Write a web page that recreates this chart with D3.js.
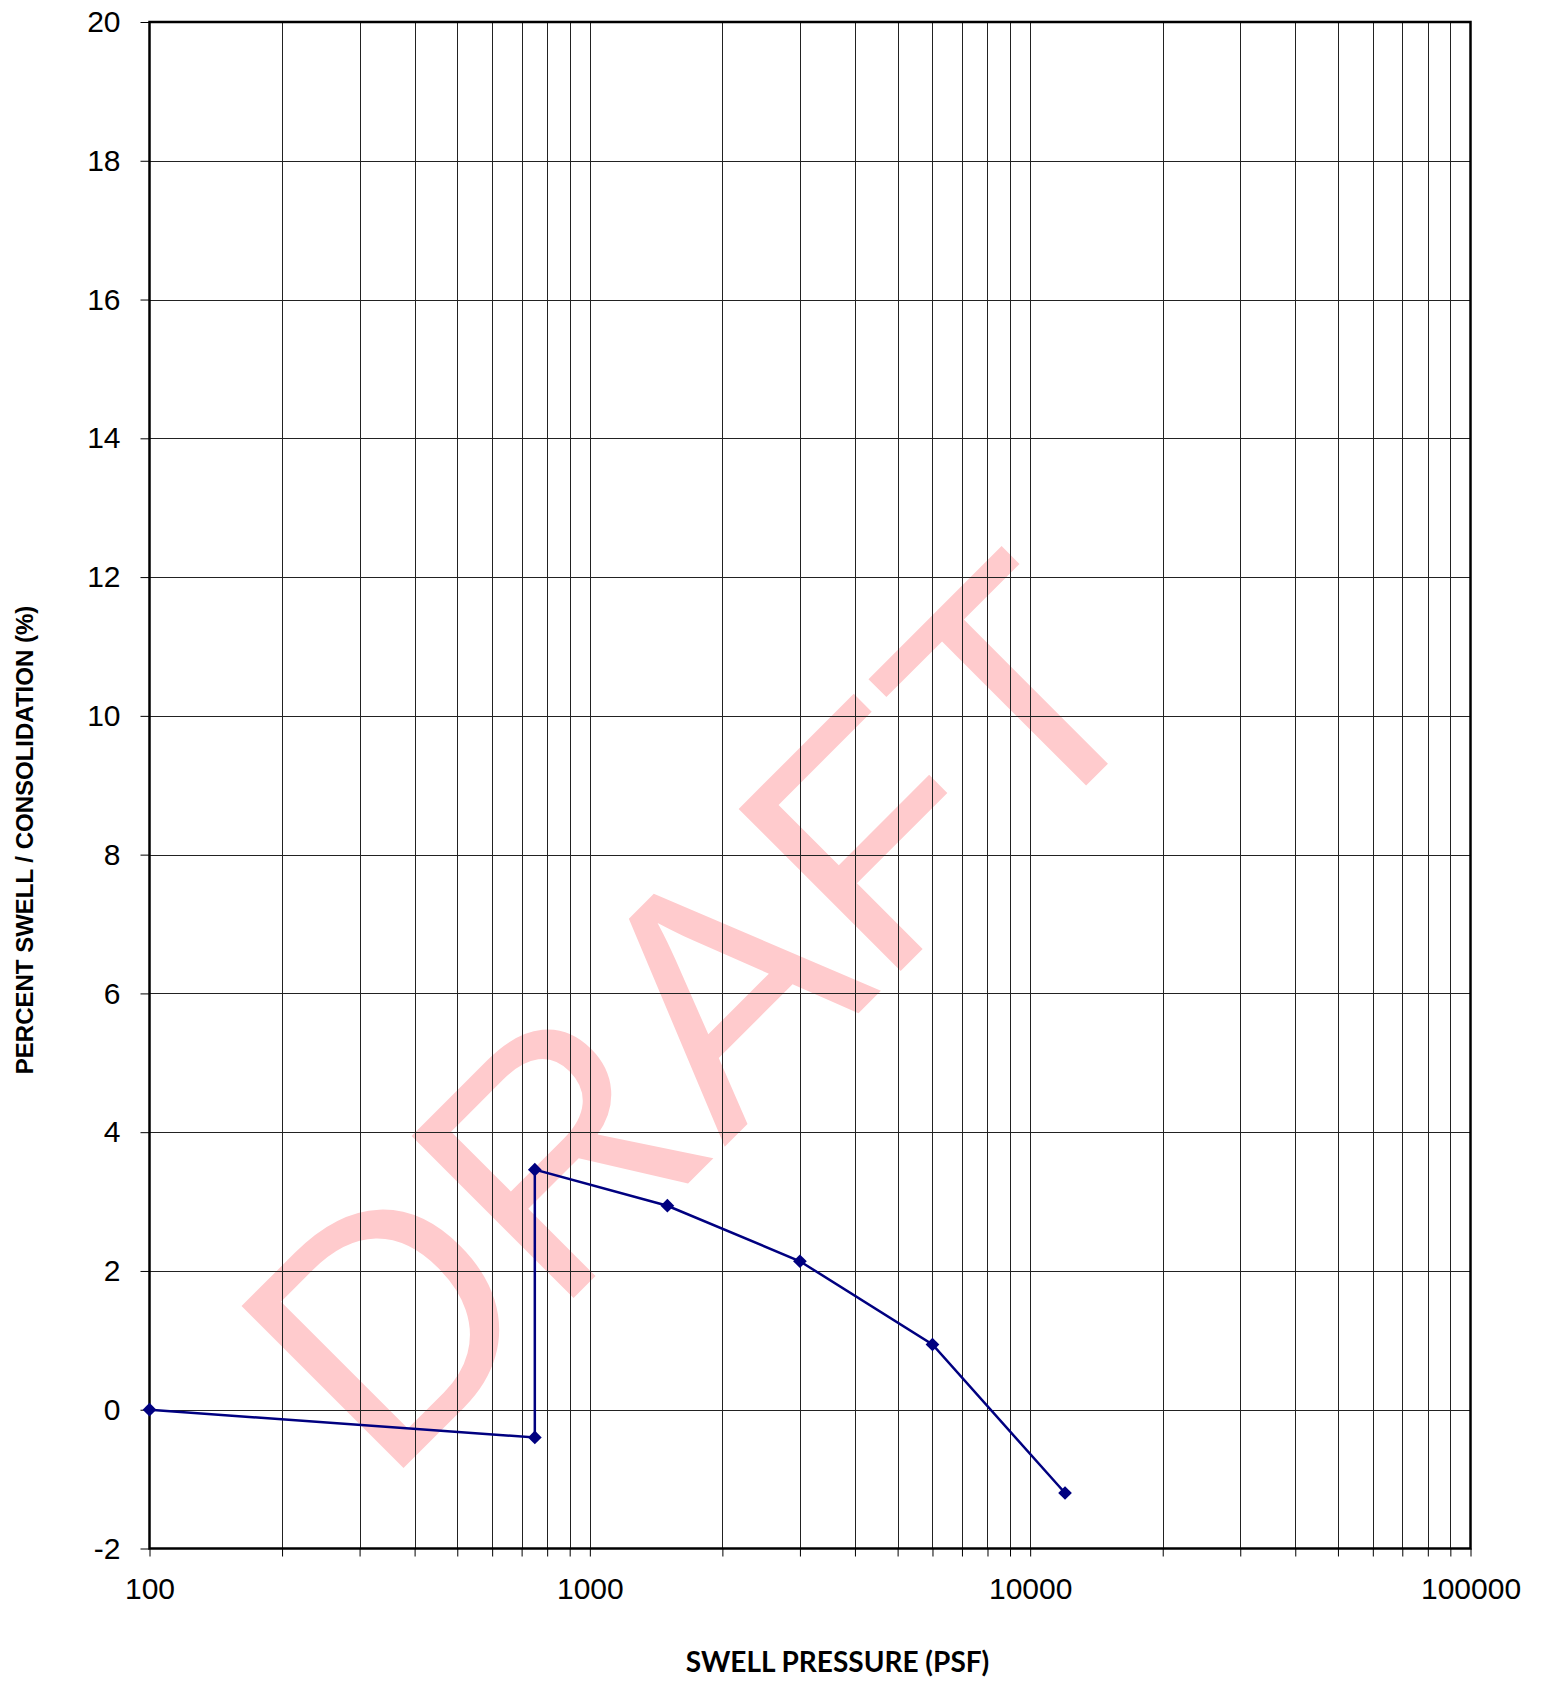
<!DOCTYPE html>
<html><head><meta charset="utf-8">
<script src="https://cdn.jsdelivr.net/npm/d3@7"></script>
<style>body{margin:0;background:#fff}svg{display:block}</style>
</head><body>
<script>
const pressure = [100, 750, 750, 1500, 3000, 6000, 12000];
const swell = [0, -0.4, 3.46, 2.94, 2.14, 0.94, -1.2];
const yTicks = [-2, 0, 2, 4, 6, 8, 10, 12, 14, 16, 18, 20];
const xTickLabels = [100, 1000, 10000, 100000];

const W = 1544, H = 1685;
const L = 149.5, R = 1470.5, T = 22, B = 1548.5;
const svg = d3.select("body").append("svg").attr("width", W).attr("height", H);

const x = d3.scaleLog().domain([100, 100000]).range([L, R]);
const y = d3.scaleLinear().domain([-2, 20]).range([B, T]);

// watermark
svg.append("text")
  .attr("transform", `translate(776.6,1095) rotate(-45)`)
  .attr("text-anchor", "middle")
  .attr("font-family", "Liberation Sans, Arial, sans-serif")
  .attr("font-size", 333)
  .attr("fill", "#ffcbcd")
  .text("DRAFT");

// grid
const minors = [];
for (let d = 100; d < 100000; d *= 10) for (let k = 1; k <= 9; k++) minors.push(d * k);
minors.push(100000);
svg.append("g").selectAll("line").data(minors.filter(v => v > 100 && v < 100000)).join("line")
  .attr("x1", d => Math.round(x(d)) + 0.5).attr("x2", d => Math.round(x(d)) + 0.5)
  .attr("y1", T).attr("y2", B).attr("stroke", "#222").attr("stroke-width", 1);
svg.append("g").selectAll("line").data(yTicks.filter(v => v > -2 && v < 20)).join("line")
  .attr("x1", L).attr("x2", R)
  .attr("y1", d => Math.round(y(d)) + 0.5).attr("y2", d => Math.round(y(d)) + 0.5)
  .attr("stroke", "#222").attr("stroke-width", 1);

// axes
const xAxis = d3.axisBottom(x).tickValues(minors).tickSize(8).tickFormat(d => xTickLabels.includes(d) ? String(d) : "");
const gx = svg.append("g").attr("transform", `translate(0,${B})`).call(xAxis);
gx.select(".domain").remove();
gx.selectAll(".tick line").attr("stroke", "#000");
gx.selectAll(".tick text").attr("font-family", "Liberation Sans, Arial, sans-serif").attr("font-size", 30).attr("fill", "#000").attr("dy", 0).attr("y", 50);

const yAxis = d3.axisLeft(y).tickValues(yTicks).tickSize(9).tickPadding(20).tickFormat(d => String(d));
const gy = svg.append("g").attr("transform", `translate(${L},0)`).call(yAxis);
gy.select(".domain").remove();
gy.selectAll(".tick line").attr("stroke", "#000");
gy.selectAll(".tick text").attr("font-family", "Liberation Sans, Arial, sans-serif").attr("font-size", 30).attr("fill", "#000");

// border
svg.append("rect").attr("x", L).attr("y", T).attr("width", R - L).attr("height", B - T)
  .attr("fill", "none").attr("stroke", "#000").attr("stroke-width", 2.5);

// data
const pts = pressure.map((p, i) => [p, swell[i]]);
svg.append("path").datum(pts)
  .attr("d", d3.line().x(d => x(d[0])).y(d => y(d[1])))
  .attr("fill", "none").attr("stroke", "#000080").attr("stroke-width", 2.5);
svg.append("g").selectAll("path").data(pts).join("path")
  .attr("transform", d => `translate(${x(d[0])},${y(d[1])})`)
  .attr("d", d3.symbol(d3.symbolDiamond2, 120))
  .attr("fill", "#000080");

// titles
svg.append("text")
  .attr("transform", "translate(33,840) rotate(-90)")
  .attr("text-anchor", "middle")
  .attr("font-family", "Liberation Sans, Arial, sans-serif")
  .attr("font-weight", "bold").attr("font-size", 24).attr("fill", "#000")
  .text("PERCENT SWELL / CONSOLIDATION (%)");
svg.append("text")
  .attr("x", 837.5).attr("y", 1672)
  .attr("text-anchor", "middle")
  .attr("font-family", "Lato, Carlito, sans-serif")
  .attr("font-weight", "bold").attr("font-size", 28).attr("fill", "#000")
  .text("SWELL PRESSURE (PSF)");
</script>
</body></html>
